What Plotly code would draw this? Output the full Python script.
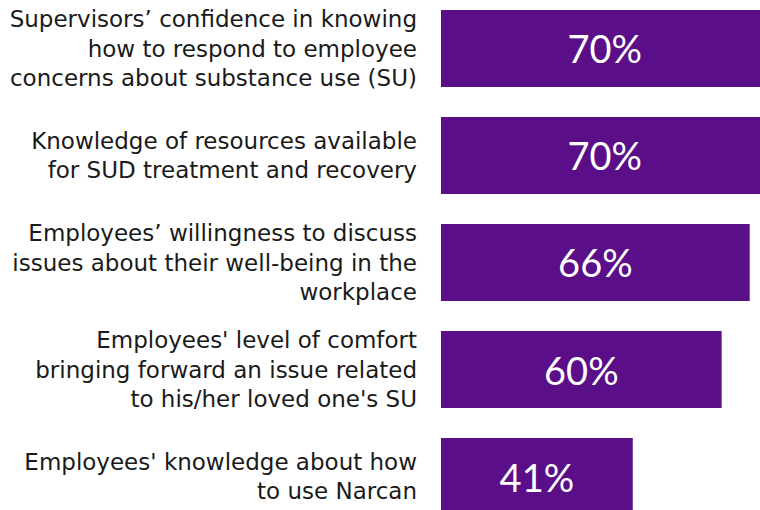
import plotly.graph_objects as go

categories = [
    "Supervisors’ confidence in knowing<br>how to respond to employee<br>concerns about substance use (SU)",
    "Knowledge of resources available<br>for SUD treatment and recovery",
    "Employees’ willingness to discuss<br>issues about their well-being in the<br>workplace",
    "Employees' level of comfort<br>bringing forward an issue related<br>to his/her loved one's SU",
    "Employees' knowledge about how<br>to use Narcan",
]
values = [70, 70, 66, 60, 41]
labels = [f"{v}%" for v in values]

fig = go.Figure(go.Bar(
    x=values, y=categories, orientation="h",
    marker=dict(color="#5a0f88", line=dict(width=0)),
    text=labels, textposition="inside", insidetextanchor="middle",
    textfont=dict(family="Lato", size=38, color="white"),
    cliponaxis=True,
))

fig.update_layout(
    width=760, height=510,
    margin=dict(l=441, r=0, t=0, b=0),
    paper_bgcolor="white", plot_bgcolor="white",
    bargap=0.28, showlegend=False,
    uniformtext=dict(minsize=38, mode="show"),
)
fig.update_xaxes(range=[0, 68.2], visible=False)
fig.update_yaxes(range=[4.313, -0.453], showgrid=False, showline=False, ticks="",
                 tickfont=dict(family="DejaVu Sans", size=23, color="#1a1a1a"),
                 ticklabelstandoff=23)

fig.write_html("out.html", config={"displayModeBar": False},
               post_script="document.body.style.margin='0';")
